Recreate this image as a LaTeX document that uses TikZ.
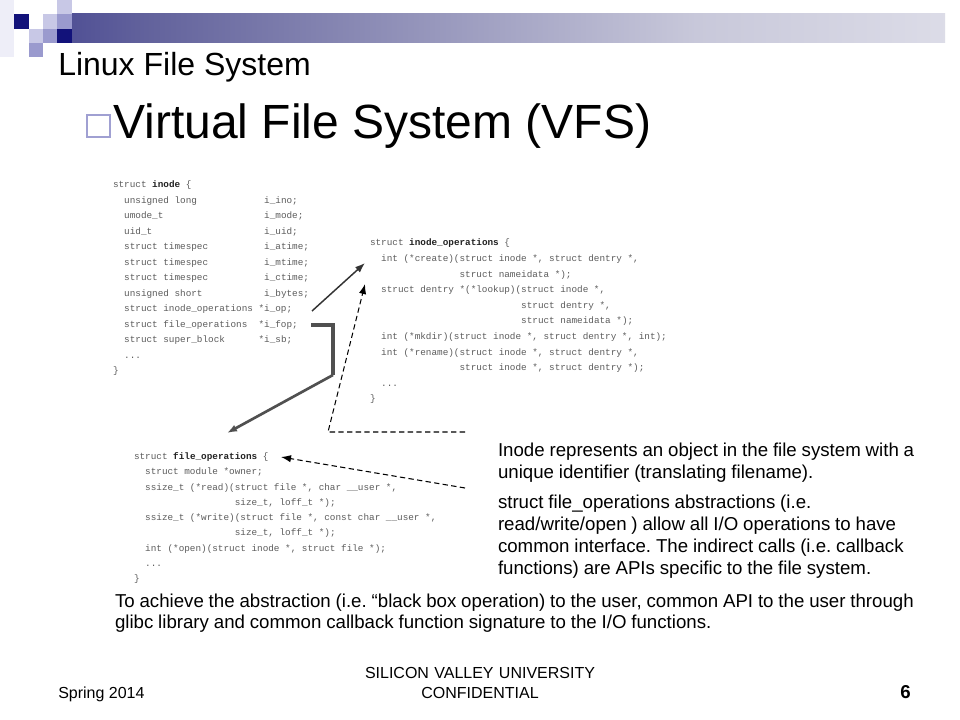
\documentclass[tikz,border=0pt]{standalone}
\usepackage{fontspec}
\setmainfont{Liberation Sans}
\setmonofont{Liberation Mono}
\usetikzlibrary{arrows.meta}
\definecolor{navysq}{HTML}{12127A}
\definecolor{lavlight}{HTML}{C8C8E6}
\definecolor{lavmid}{HTML}{9A9ACE}
\definecolor{lavpale}{HTML}{EEEEF8}
\definecolor{bar0}{HTML}{14147A}
\definecolor{bar1}{HTML}{2A2A86}
\definecolor{bar2}{HTML}{62629C}
\definecolor{bar3}{HTML}{C8C8DA}
\definecolor{bulletc}{HTML}{A0A0D2}
\definecolor{codegray}{HTML}{5C5C5C}
\definecolor{codebold}{HTML}{222222}
\definecolor{conn}{HTML}{333333}
\definecolor{conn2}{HTML}{505050}
\pgfdeclarehorizontalshading{barshade}{100bp}{color(0bp)=(bar0); color(16bp)=(bar1); color(30bp)=(bar2); color(61bp)=(bar3); color(100bp)=(white)}
\newcommand\ind[1]{\hspace*{#1\dimexpr0.6em\relax}}
\newcommand\fld[2]{\makebox[#1\dimexpr0.6em\relax][l]{#2}}
\newcommand\bw[1]{\textcolor{codebold}{\textbf{#1}}}
\newcommand\codesp{\spaceskip=0.6em\relax\xspaceskip=0.6em\relax}
\newcommand\parasp{\frenchspacing\spaceskip=0.26em\relax\xspaceskip=0.26em\relax}
\tikzset{
  codeblock/.style={anchor=base west, inner sep=0pt, outer sep=0pt, align=left, text=codegray},
  para/.style={anchor=base west, inner sep=0pt, outer sep=0pt, align=left},
  arr/.style={-{Latex[length=7.5pt,width=5.5pt]}},
  solidconn/.style={draw=conn, line width=1.1pt},
  thickconn/.style={draw=conn2, line width=2pt},
  dashconn/.style={draw=black, line width=0.8pt, dash pattern=on 4pt off 2.5pt}
}
\begin{document}
\begin{tikzpicture}[x=0.75pt,y=-0.75pt]
\useasboundingbox (0,0) rectangle (960,720);
\fill[white] (0,0) rectangle (960,720);
% header decoration
\fill[lavpale] (0,0) rectangle (14,57);
\shade[shading=barshade] (57,14) rectangle (945,43);
\fill[lavlight] (57,0) rectangle (72,14);
\fill[navysq] (14,14) rectangle (29,29);
\fill[lavlight] (43,14) rectangle (57,29);
\fill[lavmid] (57,14) rectangle (72,29);
\fill[lavlight] (29,29) rectangle (43,43);
\fill[lavmid] (43,29) rectangle (57,43);
\fill[navysq] (57,29) rectangle (72,43);
\fill[lavmid] (29,43) rectangle (43,57);
% titles
\node[anchor=base west, inner sep=0pt, font=\fontsize{24}{28}\selectfont] (title) at (58,76) {Linux File System};
\draw[bulletc, line width=2.2pt] (87,115) rectangle (110,137);
\node[anchor=base west, inner sep=0pt, font=\fontsize{36}{42}\selectfont] (head) at (113,139) {Virtual File System (VFS)};
% code blocks
\node[codeblock, font=\ttfamily\fontsize{7}{11.625}\selectfont, text width=200pt] (inode) at (113,188) {\codesp
struct \bw{inode} \{\\
\ind{2}\fld{25}{unsigned long}i\_ino;\\
\ind{2}\fld{25}{umode\_t}i\_mode;\\
\ind{2}\fld{25}{uid\_t}i\_uid;\\
\ind{2}\fld{25}{struct timespec}i\_atime;\\
\ind{2}\fld{25}{struct timespec}i\_mtime;\\
\ind{2}\fld{25}{struct timespec}i\_ctime;\\
\ind{2}\fld{25}{unsigned short}i\_bytes;\\
\ind{2}\fld{24}{struct inode\_operations}*i\_op;\\
\ind{2}\fld{24}{struct file\_operations}*i\_fop;\\
\ind{2}\fld{24}{struct super\_block}*i\_sb;\\
\ind{2}...\\
\}};
\node[codeblock, font=\ttfamily\fontsize{7}{11.7}\selectfont, text width=250pt] (iops) at (370,246) {\codesp
struct \bw{inode\_operations} \{\\
\ind{2}int (*create)(struct inode *, struct dentry *,\\
\ind{16}struct nameidata *);\\
\ind{2}struct dentry *(*lookup)(struct inode *,\\
\ind{27}struct dentry *,\\
\ind{27}struct nameidata *);\\
\ind{2}int (*mkdir)(struct inode *, struct dentry *, int);\\
\ind{2}int (*rename)(struct inode *, struct dentry *,\\
\ind{16}struct inode *, struct dentry *);\\
\ind{2}...\\
\}};
\node[codeblock, font=\ttfamily\fontsize{7}{11.44}\selectfont, text width=250pt] (fops) at (134,459.5) {\codesp
struct \bw{file\_operations} \{\\
\ind{2}struct module *owner;\\
\ind{2}ssize\_t (*read)(struct file *, char \_\_user *,\\
\ind{18}size\_t, loff\_t *);\\
\ind{2}ssize\_t (*write)(struct file *, const char \_\_user *,\\
\ind{18}size\_t, loff\_t *);\\
\ind{2}int (*open)(struct inode *, struct file *);\\
\ind{2}...\\
\}};
% connector end points
\coordinate (iop) at (312,311);
\coordinate (iopsT) at (365,263);
\coordinate (ifop) at (311,325);
\coordinate (bendA) at (333,325);
\coordinate (bendB) at (333,375);
\coordinate (fopT) at (227,433);
\coordinate (dashA) at (465,432);
\coordinate (dashB) at (328,432);
\coordinate (iopsT2) at (365,284);
\coordinate (dashC) at (465,488);
\coordinate (fopT2) at (281,457);
\draw[solidconn, arr] (iop) -- (iopsT);
\draw[thickconn, line width=2.4pt] (ifop) -- (bendA) -- (bendB);
\draw[thickconn, arr] (bendB) -- (fopT);
\draw[dashconn, arr] (dashA) -- (dashB) -- (iopsT2);
\draw[dashconn, arr] (dashC) -- (fopT2);
% explanatory text
\node[para, font=\fontsize{14}{16.5}\selectfont, text width=330pt] (p1) at (498,456) {\parasp Inode represents an object in the file system with a\\unique identifier (translating filename).};
\node[para, font=\fontsize{14}{16.5}\selectfont, text width=330pt] (p2) at (498,508) {\parasp struct file\_operations abstractions (i.e.\\read/write/open ) allow all I/O operations to have\\common interface. The indirect calls (i.e. callback\\functions) are APIs specific to the file system.};
\node[para, font=\fontsize{14}{16.1}\selectfont, text width=640pt] (p3) at (115,607) {\parasp To achieve the abstraction (i.e. “black box operation) to the user, common API to the user through\\glibc library and common callback function signature to the I/O functions.};
% footer
\node[anchor=base west, inner sep=0pt, font=\fontsize{12}{14}\selectfont] (spring) at (58,698) {Spring 2014};
\node[anchor=base, inner sep=0pt, font=\fontsize{12}{15.5}\selectfont, align=center, text width=250pt] (conf) at (480,678) {SILICON VALLEY UNIVERSITY\\CONFIDENTIAL};
\node[anchor=base east, inner sep=0pt, font=\bfseries\fontsize{14}{16}\selectfont] (pg) at (911,698) {6};
\end{tikzpicture}
\end{document}
